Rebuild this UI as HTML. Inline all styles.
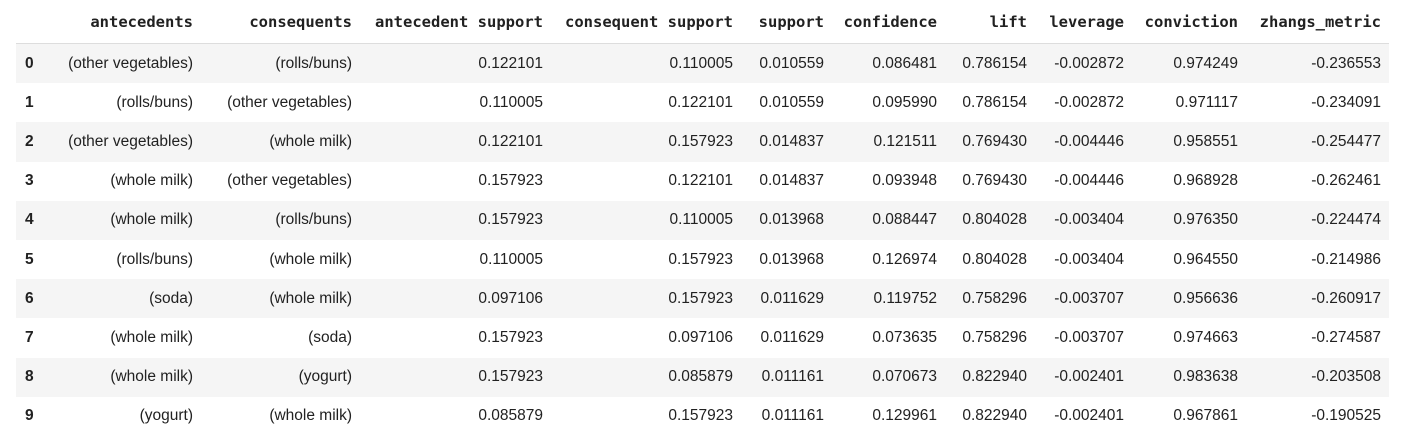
<!DOCTYPE html>
<html><head><meta charset="utf-8"><style>
body{margin:0;background:#fff;width:1406px;height:448px;overflow:hidden;font-family:"Liberation Sans",Arial,sans-serif;color:#212121}
table{position:absolute;left:16px;top:0;border-collapse:collapse;table-layout:fixed;width:1373px}
th{font-family:"DejaVu Sans Mono","Liberation Mono",monospace;font-weight:bold;font-size:15.5px;text-align:right;height:43px;padding:0 8px 0 0;border-bottom:1px solid #ddd;white-space:nowrap;color:#212121}
td{font-size:15.5px;text-align:right;height:39.2px;padding:0 8px 0 0;white-space:nowrap}
td.idx{font-weight:bold;text-align:left;padding-left:9px}
tr.s td{background:#f5f5f5}
</style></head><body>
<table>
<colgroup><col style="width:29px"><col style="width:156px"><col style="width:159px"><col style="width:191px"><col style="width:190px"><col style="width:91px"><col style="width:113px"><col style="width:90px"><col style="width:97px"><col style="width:114px"><col style="width:143px"></colgroup>
<thead><tr><th></th><th>antecedents</th><th>consequents</th><th>antecedent support</th><th>consequent support</th><th>support</th><th>confidence</th><th>lift</th><th>leverage</th><th>conviction</th><th>zhangs_metric</th></tr></thead>
<tbody>
<tr class="s"><td class="idx">0</td><td>(other vegetables)</td><td>(rolls/buns)</td><td>0.122101</td><td>0.110005</td><td>0.010559</td><td>0.086481</td><td>0.786154</td><td>-0.002872</td><td>0.974249</td><td>-0.236553</td></tr>
<tr><td class="idx">1</td><td>(rolls/buns)</td><td>(other vegetables)</td><td>0.110005</td><td>0.122101</td><td>0.010559</td><td>0.095990</td><td>0.786154</td><td>-0.002872</td><td>0.971117</td><td>-0.234091</td></tr>
<tr class="s"><td class="idx">2</td><td>(other vegetables)</td><td>(whole milk)</td><td>0.122101</td><td>0.157923</td><td>0.014837</td><td>0.121511</td><td>0.769430</td><td>-0.004446</td><td>0.958551</td><td>-0.254477</td></tr>
<tr><td class="idx">3</td><td>(whole milk)</td><td>(other vegetables)</td><td>0.157923</td><td>0.122101</td><td>0.014837</td><td>0.093948</td><td>0.769430</td><td>-0.004446</td><td>0.968928</td><td>-0.262461</td></tr>
<tr class="s"><td class="idx">4</td><td>(whole milk)</td><td>(rolls/buns)</td><td>0.157923</td><td>0.110005</td><td>0.013968</td><td>0.088447</td><td>0.804028</td><td>-0.003404</td><td>0.976350</td><td>-0.224474</td></tr>
<tr><td class="idx">5</td><td>(rolls/buns)</td><td>(whole milk)</td><td>0.110005</td><td>0.157923</td><td>0.013968</td><td>0.126974</td><td>0.804028</td><td>-0.003404</td><td>0.964550</td><td>-0.214986</td></tr>
<tr class="s"><td class="idx">6</td><td>(soda)</td><td>(whole milk)</td><td>0.097106</td><td>0.157923</td><td>0.011629</td><td>0.119752</td><td>0.758296</td><td>-0.003707</td><td>0.956636</td><td>-0.260917</td></tr>
<tr><td class="idx">7</td><td>(whole milk)</td><td>(soda)</td><td>0.157923</td><td>0.097106</td><td>0.011629</td><td>0.073635</td><td>0.758296</td><td>-0.003707</td><td>0.974663</td><td>-0.274587</td></tr>
<tr class="s"><td class="idx">8</td><td>(whole milk)</td><td>(yogurt)</td><td>0.157923</td><td>0.085879</td><td>0.011161</td><td>0.070673</td><td>0.822940</td><td>-0.002401</td><td>0.983638</td><td>-0.203508</td></tr>
<tr><td class="idx">9</td><td>(yogurt)</td><td>(whole milk)</td><td>0.085879</td><td>0.157923</td><td>0.011161</td><td>0.129961</td><td>0.822940</td><td>-0.002401</td><td>0.967861</td><td>-0.190525</td></tr>
</tbody></table>
</body></html>
